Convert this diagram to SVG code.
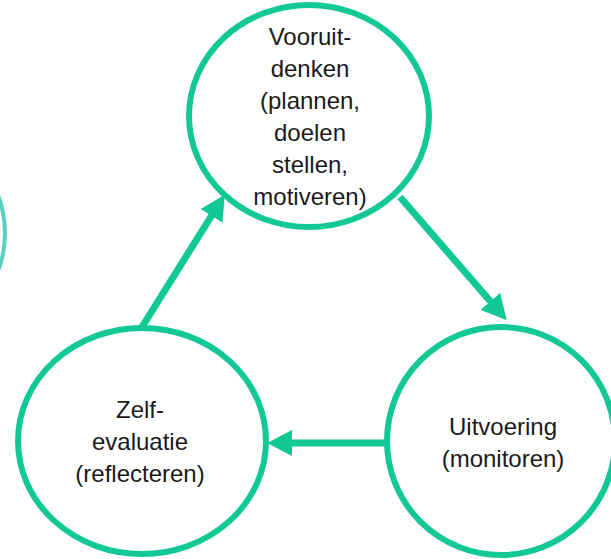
<svg xmlns="http://www.w3.org/2000/svg" width="611" height="559" viewBox="0 0 611 559">
<style>
.node{fill:#fff;stroke:#12C996;stroke-width:6}
.lbl{font-family:"Liberation Sans",Arial,sans-serif;font-size:24px;fill:#1a1a1a;text-anchor:middle}
.conn{stroke:#12C996;stroke-width:7;fill:none}
</style>
<defs>
<marker id="ah" markerUnits="userSpaceOnUse" markerWidth="26" markerHeight="26" refX="1" refY="13" orient="auto" viewBox="0 0 26 26">
<path d="M0,0 L25,13 L0,26 z" fill="#12C996"/>
</marker>
</defs>
<circle cx="-103" cy="233" r="108" fill="none" stroke="#5BCFC2" stroke-width="4"/>
<g id="vooruitdenken">
<ellipse class="node" cx="309" cy="116" rx="120" ry="111"/>
<text class="lbl" x="310"><tspan x="310" y="45">Vooruit-</tspan><tspan x="310" y="77">denken</tspan><tspan x="310" y="109">(plannen,</tspan><tspan x="310" y="141">doelen</tspan><tspan x="310" y="173">stellen,</tspan><tspan x="310" y="205">motiveren)</tspan></text>
</g>
<g id="uitvoering">
<ellipse class="node" cx="501" cy="441" rx="114" ry="114"/>
<text class="lbl"><tspan x="503" y="435">Uitvoering</tspan><tspan x="503" y="467">(monitoren)</tspan></text>
</g>
<g id="zelfevaluatie">
<ellipse class="node" cx="142" cy="441" rx="124" ry="113"/>
<text class="lbl"><tspan x="140" y="418">Zelf-</tspan><tspan x="140" y="450">evaluatie</tspan><tspan x="140" y="482">(reflecteren)</tspan></text>
</g>
<g id="connectors">
<line class="conn" x1="400" y1="197" x2="491" y2="302" marker-end="url(#ah)"/>
<line class="conn" x1="387" y1="443" x2="291" y2="443" marker-end="url(#ah)"/>
<line class="conn" x1="142" y1="327" x2="212" y2="215" marker-end="url(#ah)"/>
</g>
</svg>
